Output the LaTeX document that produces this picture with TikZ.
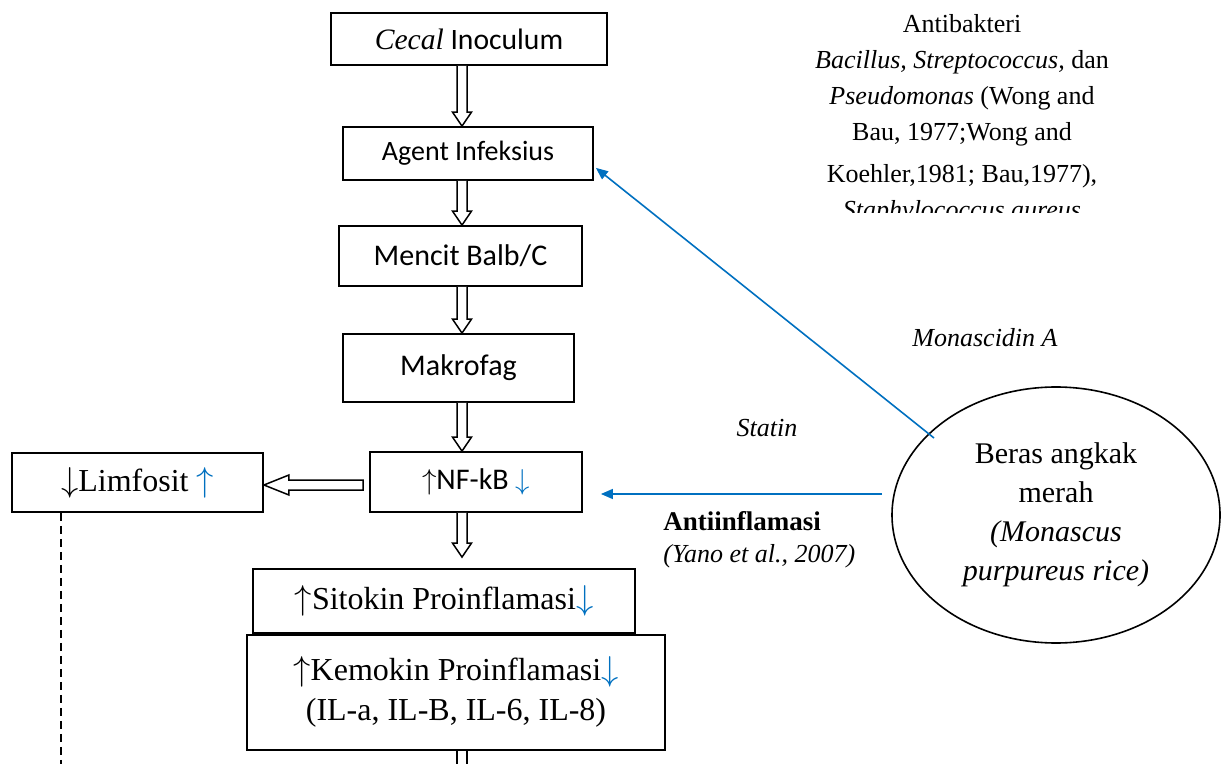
\documentclass[tikz,border=0pt]{standalone}
\usepackage{fontspec}
\setmainfont{Liberation Serif}
\newfontfamily\calibri{Carlito}
\usetikzlibrary{positioning,arrows.meta,shapes.geometric,calc}
\definecolor{angkakblue}{RGB}{0,112,192}
\newcommand{\naik}{\ensuremath{\uparrow}}
\newcommand{\turun}{\ensuremath{\downarrow}}
\newcommand{\bluup}{\textcolor{angkakblue}{\naik}}
\newcommand{\bludown}{\textcolor{angkakblue}{\turun}}
\newcommand{\fs}[1]{\fontsize{#1}{1.25\dimexpr#1pt\relax}\selectfont}
% hollow arrow pointing down, from #1 to #2
\newcommand{\hollowarrow}[2]{%
  \path (#1) coordinate (ha-s) (#2) coordinate (ha-e);
  \draw[hollow] ($(ha-s)+(-5,0)$) -- ($(ha-e)+(-5,-14)$) -- ($(ha-e)+(-9.5,-14)$)
    -- (ha-e) -- ($(ha-e)+(9.5,-14)$) -- ($(ha-e)+(5,-14)$) -- ($(ha-s)+(5,0)$);}
\tikzset{
  box/.style     = {draw, line width=0.9pt, align=center, inner sep=0pt},
  sansbox/.style = {box, font=\calibri\fs{15}},
  seribox/.style = {box, font=\fs{16}},
  note/.style    = {align=center, inner sep=0pt, font=\fs{13}},
  hollow/.style  = {line width=0.75pt, fill=white},
  link/.style    = {draw=angkakblue, line width=0.8pt, -{Triangle[length=6pt,width=5pt]}},
}
\begin{document}
\begin{tikzpicture}[x=0.5pt,y=-0.5pt]
  \clip (0,0) rectangle (1225,764);
  \coordinate (ax) at (462,0);
  % main column
  \node[sansbox, font=\calibri\fs{14.8}, minimum width=138pt, minimum height=26pt] (cecal) at (469,39) {{\rmfamily\itshape Cecal} Inoculum};
  \node[sansbox, font=\calibri\fs{14}, minimum width=125pt, minimum height=26.5pt] (agent) at (468,153.5) {Agent Infeksius};
  \node[sansbox, minimum width=121.5pt, minimum height=30pt] (mencit) at (460.5,256) {Mencit Balb/C};
  \node[sansbox, minimum width=115.5pt, minimum height=34pt] (makro) at (458.5,368) {Makrofag};
  \node[sansbox, minimum width=106pt, minimum height=30pt] (nfkb) at (476,482) {\naik NF-kB \bludown};
  \node[seribox, minimum width=125.5pt, minimum height=29.5pt] (limfo) at (137.5,482.5) {\turun Limfosit \bluup};
  \node[seribox, minimum width=191pt, minimum height=32pt] (sitokin) at (444,601) {\naik Sitokin Proinflamasi\bludown};
  \node[seribox, anchor=north, minimum width=209pt, minimum height=57.5pt] (kemokin) at (sitokin.south -| 456,0) {\naik Kemokin Proinflamasi\bludown\\(IL-a, IL-B, IL-6, IL-8)};

  \hollowarrow{cecal.south -| ax}{agent.north -| ax}
  \hollowarrow{agent.south -| ax}{mencit.north -| ax}
  \hollowarrow{mencit.south -| ax}{makro.north -| ax}
  \hollowarrow{makro.south -| ax}{nfkb.north -| ax}
  \hollowarrow{nfkb.south -| ax}{$(sitokin.north -| ax)+(0,-11)$}
  \draw[hollow, fill=none] ($(kemokin.south -| ax)+(-5,0)$) -- ++(0,30) ++(10,0) -- ++(0,-30);

  % to limfosit
  \path (limfo.east |- 0,485) coordinate (lt) (nfkb.west |- 0,485) coordinate (ls);
  \draw[hollow] ($(ls)+(-6,-5)$) -- ($(lt)+(25,-5)$) -- ($(lt)+(25,-10)$) -- (lt)
    -- ($(lt)+(25,10)$) -- ($(lt)+(25,5)$) -- ($(ls)+(-6,5)$) -- cycle;
  \coordinate (dashend) at (61,770);
  \draw[line width=0.75pt, dash pattern=on 4pt off 2.5pt] (limfo.south -| dashend) -- (dashend);

  % red yeast rice
  \node[draw, ellipse, line width=0.8pt, minimum width=164pt, minimum height=128pt, inner sep=0pt,
        align=center, font=\fontsize{15}{19.5}\selectfont] (angkak) at (1056,515)
        {Beras angkak\\merah\\\textit{(Monascus}\\\textit{purpureus rice)}};
  \coordinate (monastart) at (934,438);
  \coordinate (statinstart) at (882,494);
  \draw[link] (monastart) -- ($(agent.south east)+(2,-13)$);
  \draw[link] (statinstart) -- ($(nfkb.east |- statinstart)+(18,0)$);

  \node[note, font=\itshape\fs{13}] (monaslbl) at (985,338) {Monascidin A};
  \node[note, font=\itshape\fs{13}] (statinlbl) at (767,428) {Statin};
  \node[note, anchor=west, font=\bfseries\fs{13.5}] (antilbl) at (663,521) {Antiinflamasi};
  \node[note, anchor=west, font=\itshape\fs{13}] (yanolbl) at (663,556) {(Yano et al., 2007)};

  \begin{scope}
    \clip (700,0) rectangle (1225,213);
    \node[note, anchor=north, font=\fontsize{13}{18}\selectfont] (antibak) at (962,14)
      {Antibakteri\\
       \textit{Bacillus, Streptococcus,} dan\\
       \textit{Pseudomonas} (Wong and\\
       Bau, 1977;Wong and\\[3pt]
       Koehler,1981; Bau,1977),\\
       \textit{Staphylococcus aureus}};
  \end{scope}
\end{tikzpicture}
\end{document}
